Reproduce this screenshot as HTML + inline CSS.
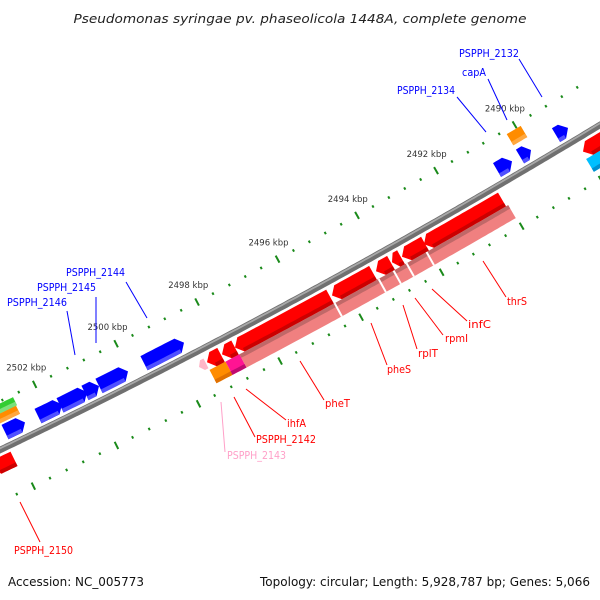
<!DOCTYPE html>
<html><head><meta charset="utf-8"><style>
html,body{margin:0;padding:0;background:#fff;width:600px;height:600px;overflow:hidden}
svg{display:block}
text{font-family:"DejaVu Sans","Liberation Sans",sans-serif}
</style></head><body>
<svg id="s" width="600" height="600" viewBox="0 0 600 600" xmlns="http://www.w3.org/2000/svg">
<text x="300" y="23" text-anchor="middle" font-size="12.5" font-style="italic" fill="#222" textLength="453" lengthAdjust="spacingAndGlyphs">Pseudomonas syringae pv. phaseolicola 1448A, complete genome</text>
<g id="g"></g>
<g font-size="10.5">
<text x="459" y="57" fill="#0000ff" textLength="60" lengthAdjust="spacingAndGlyphs">PSPPH_2132</text>
<text x="462" y="76" fill="#0000ff" textLength="24" lengthAdjust="spacingAndGlyphs">capA</text>
<text x="397" y="94" fill="#0000ff" textLength="58" lengthAdjust="spacingAndGlyphs">PSPPH_2134</text>
<text x="66" y="276" fill="#0000ff" textLength="59" lengthAdjust="spacingAndGlyphs">PSPPH_2144</text>
<text x="37" y="291" fill="#0000ff" textLength="59" lengthAdjust="spacingAndGlyphs">PSPPH_2145</text>
<text x="7" y="306" fill="#0000ff" textLength="60" lengthAdjust="spacingAndGlyphs">PSPPH_2146</text>
<text x="507" y="305" fill="#ff0000" textLength="20" lengthAdjust="spacingAndGlyphs">thrS</text>
<text x="468" y="328" fill="#ff0000" textLength="23" lengthAdjust="spacingAndGlyphs">infC</text>
<text x="445" y="342" fill="#ff0000" textLength="23" lengthAdjust="spacingAndGlyphs">rpmI</text>
<text x="418" y="357" fill="#ff0000" textLength="20" lengthAdjust="spacingAndGlyphs">rplT</text>
<text x="387" y="373" fill="#ff0000" textLength="24" lengthAdjust="spacingAndGlyphs">pheS</text>
<text x="325" y="407" fill="#ff0000" textLength="25" lengthAdjust="spacingAndGlyphs">pheT</text>
<text x="287" y="427" fill="#ff0000" textLength="19" lengthAdjust="spacingAndGlyphs">ihfA</text>
<text x="256" y="443" fill="#ff0000" textLength="60" lengthAdjust="spacingAndGlyphs">PSPPH_2142</text>
<text x="227" y="459" fill="#ffa0c8" textLength="59" lengthAdjust="spacingAndGlyphs">PSPPH_2143</text>
<text x="14" y="554" fill="#ff0000" textLength="59" lengthAdjust="spacingAndGlyphs">PSPPH_2150</text>
</g>
<g stroke-width="1">
<line x1="519" y1="59" x2="542" y2="97" stroke="#0000ff"/>
<line x1="488" y1="79" x2="507" y2="120" stroke="#0000ff"/>
<line x1="457" y1="97" x2="486" y2="132" stroke="#0000ff"/>
<line x1="126" y1="282" x2="147" y2="318" stroke="#0000ff"/>
<line x1="96" y1="297" x2="96" y2="343" stroke="#0000ff"/>
<line x1="67" y1="311" x2="75" y2="355" stroke="#0000ff"/>
<line x1="483" y1="261" x2="506" y2="297" stroke="#ff0000"/>
<line x1="432" y1="289" x2="467" y2="321" stroke="#ff0000"/>
<line x1="415" y1="298" x2="443" y2="335" stroke="#ff0000"/>
<line x1="403" y1="305" x2="417" y2="349" stroke="#ff0000"/>
<line x1="371" y1="323" x2="387" y2="365" stroke="#ff0000"/>
<line x1="300" y1="361" x2="324" y2="400" stroke="#ff0000"/>
<line x1="246" y1="389" x2="286" y2="420" stroke="#ff0000"/>
<line x1="234" y1="397" x2="255" y2="437" stroke="#ff0000"/>
<line x1="221" y1="402" x2="225" y2="452" stroke="#ffa0c8"/>
<line x1="20" y1="502" x2="40" y2="542" stroke="#ff0000"/>
</g>
<text x="8" y="586" font-size="12.5" fill="#111" textLength="136" lengthAdjust="spacingAndGlyphs">Accession: NC_005773</text>
<text x="590" y="586" font-size="12.5" fill="#111" text-anchor="end" textLength="330" lengthAdjust="spacingAndGlyphs">Topology: circular; Length: 5,928,787 bp; Genes: 5,066</text>
</svg>
<script>
(function(){
var NS="http://www.w3.org/2000/svg",G=document.getElementById("g");
function Y(x){var t=x/600;return (1-t)*(1-t)*450+2*t*(1-t)*306.5+t*t*125;}
function D(x){var t=x/600;return (-2*(1-t)*450+2*(1-2*t)*306.5+2*t*125)/600;}
function P(x,o){var d=D(x),n=Math.sqrt(1+d*d);return [x-d/n*o,Y(x)+o/n];}
function foot(x,o){var f=x;for(var i=0;i<4;i++){var d=D(f),n=Math.sqrt(1+d*d);f=x+d/n*o;}return f;}
function el(t,a){var e=document.createElementNS(NS,t);for(var k in a)e.setAttribute(k,a[k]);G.appendChild(e);return e;}
function pts(a){return a.map(function(p){return p[0].toFixed(1)+","+p[1].toFixed(1)}).join(" ");}
var bb=[];for(var x=-5;x<=605;x+=3)bb.push(P(x,0));
el("polyline",{points:pts(bb),fill:"none",stroke:"#707070","stroke-width":6.5});
var bb2=[];for(x=-5;x<=605;x+=3)bb2.push(P(x,-1.5));
el("polyline",{points:pts(bb2),fill:"none",stroke:"#a8a8a8","stroke-width":1.8});
function gene(x1,x2,o1,o2,col,dk,dir,strip){
  var om=(o1+o2)/2,f1=foot(x1,om),f2=foot(x2,om),h=Math.min(6,(f2-f1)*0.5);
  var a=f1+(dir<0?h:0),b=f2-(dir>0?h:0),p=[];
  if(dir<0)p.push(P(f1,om));
  for(var x=a;x<b;x+=3)p.push(P(x,o1));p.push(P(b,o1));
  if(dir>0)p.push(P(f2,om));
  for(x=b;x>a;x-=3)p.push(P(x,o2));p.push(P(a,o2));
  el("polygon",{points:pts(p),fill:col});
  if(strip){var s=strip>0?[o2-4,o2]:[o1,o1+4];p=[];
    for(x=a;x<b;x+=3)p.push(P(x,s[0]));p.push(P(b,s[0]));
    for(x=b;x>a;x-=3)p.push(P(x,s[1]));p.push(P(a,s[1]));
    el("polygon",{points:pts(p),fill:dk});}
}
var tab=[],s=0,py=Y(-40);for(var u=-40;u<=640;u+=0.5){var yy=Y(u);s+=Math.sqrt(0.25+(yy-py)*(yy-py));py=yy;tab.push([u,s]);}
function sx(x){for(var i=0;i<tab.length;i++)if(tab[i][0]>=x)return tab[i][1];return tab[tab.length-1][1];}
function xs(v){for(var i=0;i<tab.length;i++)if(tab[i][1]>=v)return tab[i][0];return 640;}
var sA=sx(54),sB=sx(537),step=(sB-sA)/12;
for(var i=-30;i<=90;i++){
  var k=2490+i*0.2,fx=xs(sA+(2502-k)*step);
  if(fx<-10||fx>615)continue;
  var up=(i%2===0),off=up?-44:47,isLong=up?(((i%10)+10)%10===0):((((i-5)%10)+10)%10===0);
  var L=isLong?4:1.3,p1=P(fx,off-L),p2=P(fx,off+L);
  el("line",{x1:p1[0],y1:p1[1],x2:p2[0],y2:p2[1],stroke:"#1a8a1a","stroke-width":2});
  if(up&&isLong){var q=P(fx,-63);var t=el("text",{x:q[0],y:q[1]+3,"text-anchor":"middle","font-size":"8.5",fill:"#333"});t.textContent=Math.round(k)+" kbp";}
}
var R="#ff0000",RD="#cc0000";
[[-8,14],[207,221],[222,235],[235,330],[332,373],[376,391],[392,401],[402,425],[424,502],[583,615]].forEach(function(g){gene(g[0],g[1],6,22,R,RD,-1,1);});
gene(199,206,9,20,"#ffb6c8","#ffb6c8",-1,0);
gene(213,229,22,37,"#ff8c00","#e07000",0,1);
gene(229,243,22,37,"#ff1493","#c00a70",0,1);
gene(243,512,22,37,"#f08080","#c06868",0,-1);
[338,382,397,410,430].forEach(function(x){var f=foot(x,29),a=P(f,22),b=P(f,37);el("line",{x1:a[0],y1:a[1],x2:b[0],y2:b[1],stroke:"#fff","stroke-width":2});});
gene(590,615,22,37,"#00bfff","#0090d0",0,1);
[[5,25],[38,62],[60,87],[85,99],[99,128],[144,184],[497,512],[520,531],[556,568]].forEach(function(g){gene(g[0],g[1],-22,-6,"#0000ff","#5050ff",1,1);});
gene(-10,18,-33,-24,"#ff8c00","#ffa840",0,1);
gene(-10,15,-42,-33,"#32cd32","#7ce07c",0,1);
gene(510,524,-40,-27,"#ff8c00","#ffa840",0,1);
})();
</script>
</body></html>
